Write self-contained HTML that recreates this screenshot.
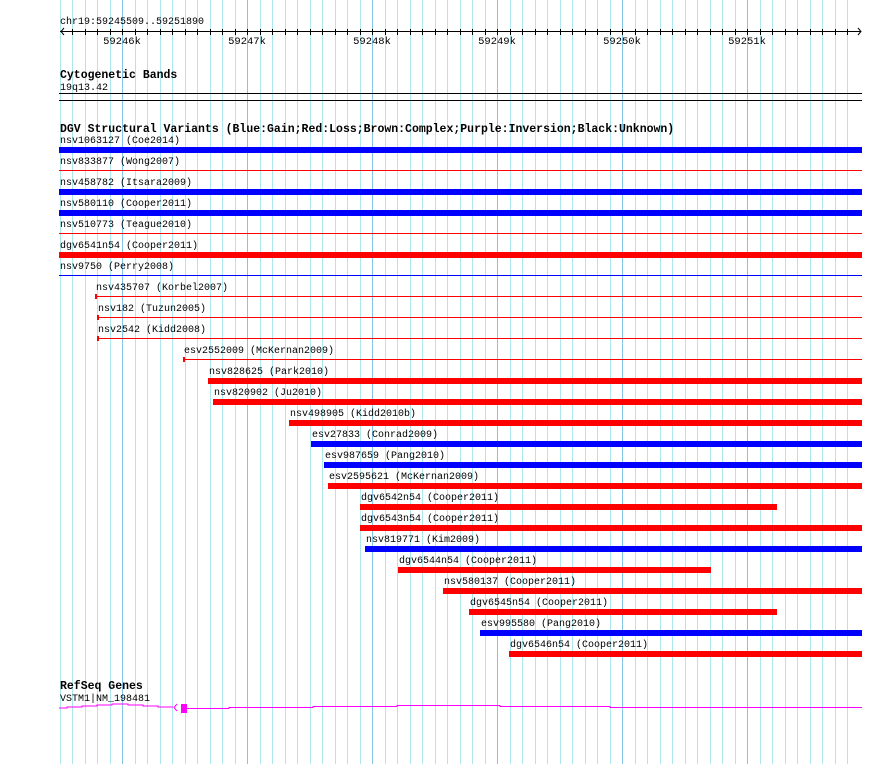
<!DOCTYPE html>
<html><head><meta charset="utf-8"><style>
body{margin:0;background:#fff;width:890px;height:764px;overflow:hidden}
svg text{font-family:"Liberation Mono",monospace;}
</style></head><body>
<svg id="c" width="890" height="764" xmlns="http://www.w3.org/2000/svg">
<g id="grid"></g>
<text x="60" y="24" font-size="10">chr19:59245509..59251890</text>
<g id="ruler"></g>
<text x="60" y="78" font-size="11.5" font-weight="bold">Cytogenetic Bands</text>
<text x="60" y="90" font-size="10">19q13.42</text>
<rect x="59" y="93" width="803" height="1" fill="#000"/>
<rect x="59" y="100" width="803" height="1" fill="#000"/>
<text x="60" y="132" font-size="11.5" font-weight="bold">DGV Structural Variants (Blue:Gain;Red:Loss;Brown:Complex;Purple:Inversion;Black:Unknown)</text>
<g id="variants"></g>
<text x="60" y="689" font-size="11.5" font-weight="bold">RefSeq Genes</text>
<text x="60" y="701" font-size="10">VSTM1|NM_198481</text>
<polyline points="59,708 67,708 67,707 82,707 82,706 97,706 97,705 112,705 112,704 128,704 128,705 143,705 143,706 158,706 158,707 173,707" fill="none" stroke="#f0f" stroke-width="1"/>
<polyline points="177,704 174,707.5 177,711" fill="none" stroke="#f0f" stroke-width="1"/>
<rect x="181" y="704" width="6" height="9" fill="#f0f"/>
<polyline points="187,708.5 229,708.5 229,707.5 313,707.5 313,706.5 397,706.5 397,705.5 500,705.5 500,706.5 610,706.5 610,707.5 862,707.5" fill="none" stroke="#f0f" stroke-width="1"/>
</svg>
<script>
const tickLabels = ["59246k","59247k","59248k","59249k","59250k","59251k"];
const tickValues = [59246000,59247000,59248000,59249000,59250000,59251000];
const names = ["nsv1063127 (Coe2014)","nsv833877 (Wong2007)","nsv458782 (Itsara2009)","nsv580110 (Cooper2011)","nsv510773 (Teague2010)","dgv6541n54 (Cooper2011)","nsv9750 (Perry2008)","nsv435707 (Korbel2007)","nsv182 (Tuzun2005)","nsv2542 (Kidd2008)","esv2552009 (McKernan2009)","nsv828625 (Park2010)","nsv820902 (Ju2010)","nsv498905 (Kidd2010b)","esv27833 (Conrad2009)","esv987659 (Pang2010)","esv2595621 (McKernan2009)","dgv6542n54 (Cooper2011)","dgv6543n54 (Cooper2011)","nsv819771 (Kim2009)","dgv6544n54 (Cooper2011)","nsv580137 (Cooper2011)","dgv6545n54 (Cooper2011)","esv995580 (Pang2010)","dgv6546n54 (Cooper2011)"];
const starts = [59245400,59245400,59245400,59245400,59245400,59245400,59245400,59245784,59245800,59245800,59246488,59246688,59246728,59247336,59247512,59247616,59247648,59247904,59247904,59247944,59248208,59248568,59248776,59248864,59249096];
const ends = [59252000,59252000,59252000,59252000,59252000,59252000,59252000,59252000,59252000,59252000,59252000,59252000,59252000,59252000,59252000,59252000,59252000,59251240,59252000,59252000,59250712,59252000,59251240,59252000,59252000];
const types = ["gain","loss","gain","gain","loss","loss","gain","loss","loss","loss","loss","loss","loss","loss","gain","gain","loss","loss","loss","gain","loss","loss","loss","gain","loss"];
const thick = [1,0,1,1,0,1,0,0,0,0,0,1,1,1,1,1,1,1,1,1,1,1,1,1,1];

const NS="http://www.w3.org/2000/svg";
const X0=59, X1=862;
function xs(bp){return Math.max(X0,Math.min(X1,122+(bp-59246000)*0.125));}
function mk(tag,attrs,parent){const e=document.createElementNS(NS,tag);for(const k in attrs)e.setAttribute(k,attrs[k]);parent.appendChild(e);return e;}
const grid=document.getElementById('grid');
for(let i=-5;i<=58;i++){
  const x=122+i*12.5;
  const major=(i%10===0);
  const l=mk('rect',{x:Math.round(x),y:0,width:1,height:764,fill:major?'#84c4e4':'#aee6ee'},grid);
  
  
}
const ruler=document.getElementById('ruler');
mk('rect',{x:60,y:31,width:801,height:1,fill:'#000'},ruler);
mk('polyline',{points:'64,28 61,31.5 64,35',fill:'none',stroke:'#000'},ruler);
mk('polyline',{points:'858,28 861,31.5 858,35',fill:'none',stroke:'#000'},ruler);
for(let i=-4;i<=58;i++){
  const x=Math.round(122+i*12.5);
  const t=mk('rect',{x:x,y:29,width:1,height:6,fill:'#000'},ruler);
  
  
}
tickValues.forEach((v,i)=>{
  const t=mk('text',{x:xs(v),y:44,'font-size':10.5,'text-anchor':'middle'},ruler);
  t.textContent=tickLabels[i];
  
  
});
const vg=document.getElementById('variants');
names.forEach((n,i)=>{
  const g=mk('g',{},vg);
  
  
  const x1=xs(starts[i]), x2=xs(ends[i]);
  const col=types[i]==='gain'?'#0000ff':'#ff0000';
  const t=mk('text',{x:x1+1,y:143+21*i,'font-size':10},g);
  t.textContent=n;
  if(thick[i]){
    mk('rect',{x:x1,y:147+21*i,width:x2-x1,height:6,fill:col},g);
  }else{
    mk('rect',{x:x1,y:149+21*i,width:x2-x1,height:1,fill:col},g);
    if(x1>X0+1) mk('rect',{x:x1,y:147+21*i,width:2,height:5,fill:col},g);
  }
});
</script>
</body></html>
